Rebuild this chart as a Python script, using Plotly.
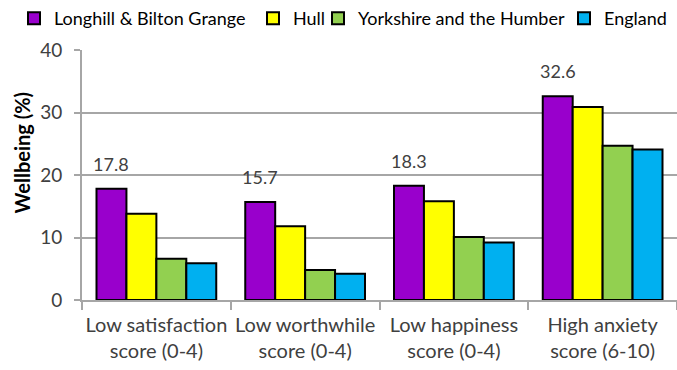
import plotly.graph_objects as go

# Wellbeing indicators by area (% of respondents)
categories = [
    "Low satisfaction<br>score (0-4)",
    "Low worthwhile<br>score (0-4)",
    "Low happiness<br>score (0-4)",
    "High anxiety<br>score (6-10)",
]
series_names = ["Longhill & Bilton Grange", "Hull", "Yorkshire and the Humber", "England"]
longhill = [17.8, 15.7, 18.3, 32.6]
hull = [13.8, 11.8, 15.8, 30.9]
yorkshire = [6.6, 4.8, 10.1, 24.7]
england = [5.9, 4.2, 9.2, 24.1]
y_ticks = [0, 10, 20, 30, 40]

colors = ["#9900CC", "#FFFF00", "#92D050", "#00B0F0"]
series_values = [longhill, hull, yorkshire, england]

W, H = 677, 370
FONT = "Lato"
TEXT = "#404040"
GRID = "#A6A6A6"

# one legend box per series so the entries can sit in a single tight row
legend_ids = ["legend", "legend2", "legend3", "legend4"]
legend_left_px = [14, 253, 318, 564]

fig = go.Figure()
for name, vals, col, lid in zip(series_names, series_values, colors, legend_ids):
    fig.add_trace(go.Bar(
        name=name,
        x=categories,
        y=vals,
        legend=lid,
        marker=dict(color=col, line=dict(color="black", width=2)),
    ))

# value labels above the local-area bars
n_series = len(series_names)
bargap = 0.195
bar_w = (1 - bargap) / n_series
offset = -(n_series - 1) / 2 * bar_w
for i, v in enumerate(longhill):
    fig.add_annotation(
        x=i + offset, y=v, xref="x", yref="y",
        text=f"{v:.1f}", showarrow=False,
        yanchor="bottom", yshift=12,
        font=dict(family=FONT, size=18, color=TEXT),
    )

# y-axis title
fig.add_annotation(
    text="<b>Wellbeing (%)</b>", textangle=-90,
    xref="paper", yref="paper", x=0, y=0.59, xshift=-61,
    xanchor="center", yanchor="middle", showarrow=False,
    font=dict(family=FONT, size=20, color="black"),
)

legend_layout = {}
for lid, left in zip(legend_ids, legend_left_px):
    legend_layout[lid] = dict(
        orientation="h", x=left / W, xref="container", y=1.0, yref="container",
        xanchor="left", yanchor="top",
        font=dict(family=FONT, size=18, color="black"),
        itemwidth=30, bgcolor="rgba(0,0,0,0)",
    )

fig.update_layout(
    width=W, height=H,
    margin=dict(l=82, r=0, t=50, b=70, autoexpand=False),
    paper_bgcolor="white", plot_bgcolor="white",
    barmode="group", bargap=bargap, bargroupgap=0,
    font=dict(family=FONT, color=TEXT),
    showlegend=True,
    **legend_layout,
)

fig.update_xaxes(
    showline=True, linecolor=GRID, linewidth=2,
    ticks="outside", tickson="boundaries", ticklen=8, tickcolor=GRID, tickwidth=2,
    tickfont=dict(family=FONT, size=20, color=TEXT),
    tickangle=0, automargin=False,
    ticklabelstandoff=6,
    showgrid=False,
)
fig.update_yaxes(
    range=[0, 40], tickvals=y_ticks,
    showline=True, linecolor=GRID, linewidth=2,
    ticks="outside", ticklen=6, tickcolor=GRID, tickwidth=2,
    ticklabelstandoff=8, automargin=False,
    showgrid=True, gridcolor=GRID, gridwidth=2,
    zeroline=False,
    tickfont=dict(family=FONT, size=19, color=TEXT),
)

fig.write_html("out.html")
